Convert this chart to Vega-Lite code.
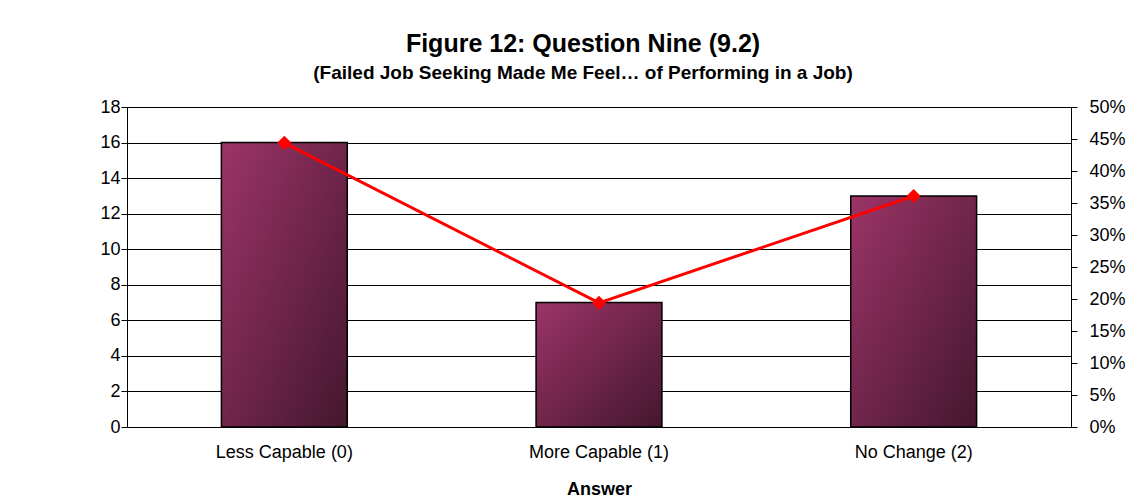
{
  "$schema": "https://vega.github.io/schema/vega-lite/v6.json",
  "width": 944,
  "height": 320,
  "autosize": {"type": "none"},
  "padding": {"left": 127, "top": 107, "right": 65, "bottom": 77},
  "background": "white",
  "config": {
    "view": {"stroke": null},
    "font": "Liberation Sans",
    "axis": {"labelFont": "Liberation Sans", "titleFont": "Liberation Sans", "labelColor": "#000", "titleColor": "#000", "domainColor": "#000", "tickColor": "#000"}
  },
  "title": {
    "text": "Figure 12: Question Nine (9.2)",
    "subtitle": "(Failed Job Seeking Made Me Feel… of Performing in a Job)",
    "font": "Liberation Sans",
    "fontSize": 25,
    "fontWeight": "bold",
    "color": "#000",
    "subtitleFont": "Liberation Sans",
    "subtitleFontSize": 19,
    "subtitleFontWeight": "bold",
    "subtitleColor": "#000",
    "subtitlePadding": 7,
    "anchor": "middle",
    "dx": -16,
    "offset": 15
  },
  "data": {
    "values": [
      {"answer": "Less Capable (0)", "count": 16, "pct": 0.444},
      {"answer": "More Capable (1)", "count": 7, "pct": 0.194},
      {"answer": "No Change (2)", "count": 13, "pct": 0.361}
    ]
  },
  "encoding": {
    "x": {
      "field": "answer",
      "type": "nominal",
      "sort": null,
      "scale": {"paddingInner": 0.6, "paddingOuter": 0.3},
      "axis": {
        "title": "Answer",
        "titleFontSize": 18,
        "titleFontWeight": "bold",
        "titlePadding": 19,
        "labelAngle": 0,
        "labelFontSize": 18,
        "labelPadding": 16,
        "ticks": false,
        "domainWidth": 1
      }
    }
  },
  "layer": [
    {
      "mark": {
        "type": "bar",
        "stroke": "#000",
        "strokeWidth": 1.5,
        "color": {
          "gradient": "linear",
          "x1": 0, "y1": 0, "x2": 1, "y2": 1,
          "stops": [
            {"offset": 0, "color": "#9c3467"},
            {"offset": 1, "color": "#44172e"}
          ]
        }
      },
      "encoding": {
        "y": {
          "field": "count",
          "type": "quantitative",
          "scale": {"domain": [0, 18], "nice": false},
          "axis": {
            "title": null,
            "values": [0, 2, 4, 6, 8, 10, 12, 14, 16, 18],
            "labelFontSize": 18,
            "labelPadding": 1,
            "tickSize": 6,
            "grid": true,
            "gridColor": "#000",
            "gridOpacity": 1,
            "gridWidth": 1
          }
        }
      }
    },
    {
      "mark": {"type": "line", "color": "#ff0000", "strokeWidth": 3, "point": {"shape": "diamond", "size": 200, "filled": true, "color": "#ff0000", "opacity": 1}},
      "encoding": {
        "y": {
          "field": "pct",
          "type": "quantitative",
          "scale": {"domain": [0, 0.5], "nice": false},
          "axis": {
            "title": null,
            "orient": "right",
            "format": ".0%",
            "values": [0, 0.05, 0.1, 0.15, 0.2, 0.25, 0.3, 0.35, 0.4, 0.45, 0.5],
            "labelFontSize": 18,
            "labelPadding": 12,
            "tickSize": 6,
            "grid": false
          }
        }
      }
    }
  ],
  "resolve": {"scale": {"y": "independent"}}
}
